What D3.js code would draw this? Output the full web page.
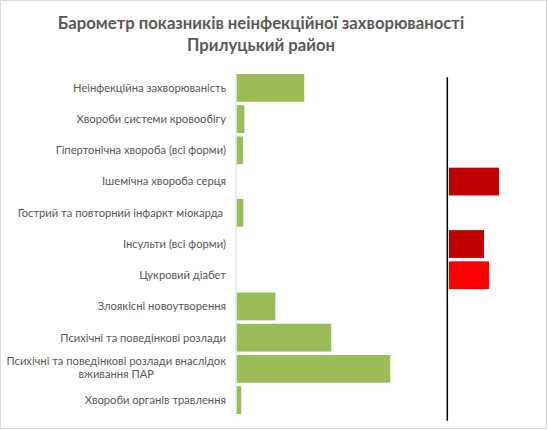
<!DOCTYPE html>
<html><head><meta charset="utf-8">
<script src="https://cdn.jsdelivr.net/npm/d3@7/dist/d3.min.js"></script>
<style>html,body{margin:0;padding:0;background:#fff;} svg{display:block;}</style>
</head><body>
<svg id="chart" width="548" height="430"></svg>
<script>
const titleLines = ["Барометр показників неінфекційної захворюваності", "Прилуцький район"];
const categories = [
  "Неінфекційна захворюваність",
  "Хвороби системи кровообігу",
  "Гіпертонічна хвороба (всі форми)",
  "Ішемічна хвороба серця",
  "Гострий та повторний інфаркт міокарда ",
  "Інсульти (всі форми)",
  "Цукровий діабет",
  "Злоякісні новоутворення",
  "Психічні та поведінкові розлади",
  "Психічні та поведінкові розлади внаслідок\nвживання ПАР",
  "Хвороби органів травлення"
];
const greenValues = [32.0, 3.6, 2.9, 0, 3.1, 0, 0, 18.3, 44.8, 72.8, 2.1];
const redValues   = [0, 0, 0, 24.5, 0, 17.4, 19.8, 0, 0, 0, 0];
const redColors   = ["", "", "", "#C00000", "", "#C00000", "#FF0000", "", "", "", ""];
const threshold = 100;

const svg = d3.select("#chart");
const W = 548, H = 430;

svg.append("rect").attr("x", 0.5).attr("y", 0.5).attr("width", W - 2).attr("height", H - 2)
  .attr("fill", "#fff").attr("stroke", "#d9d9d9");

svg.selectAll("text.title").data(titleLines).enter().append("text")
  .attr("class", "title")
  .attr("x", 261).attr("y", (d, i) => 28.5 + i * 22.5)
  .attr("text-anchor", "middle")
  .attr("font-family", "Lato, 'Open Sans', sans-serif")
  .attr("font-weight", "bold").attr("font-size", 16.7).attr("fill", "#595959")
  .text(d => d);

const x = d3.scaleLinear().domain([0, threshold]).range([236.5, 447.3]);
const y = d3.scaleBand().domain(categories).range([72.3, 415.7]).paddingInner(0.109).paddingOuter(0.0545);

// category axis line
svg.append("line").attr("x1", 236).attr("x2", 236).attr("y1", 72).attr("y2", 415.5)
  .attr("stroke", "#d9d9d9").attr("stroke-width", 1);

// green bars
svg.selectAll("rect.g").data(categories).enter().append("rect")
  .attr("class", "g")
  .attr("x", x(0) + 0.3)
  .attr("y", d => y(d))
  .attr("width", (d, i) => Math.max(0, x(greenValues[i]) - x(0)))
  .attr("height", y.bandwidth())
  .attr("fill", "#9BBB59");

// threshold line
svg.append("line").attr("x1", x(threshold)).attr("x2", x(threshold))
  .attr("y1", 77.3).attr("y2", 420.7).attr("stroke", "#000").attr("stroke-width", 1.5);

// red bars
svg.selectAll("rect.r").data(categories.filter((d, i) => redValues[i] > 0)).enter().append("rect")
  .attr("class", "r")
  .attr("x", x(threshold) + 1.6)
  .attr("y", d => y(d))
  .attr("width", d => x(threshold + redValues[categories.indexOf(d)]) - x(threshold) - 1.6)
  .attr("height", y.bandwidth())
  .attr("fill", d => redColors[categories.indexOf(d)]);

// labels
const labelRight = 226;
const lbl = svg.selectAll("text.lbl").data(categories).enter().append("text")
  .attr("class", "lbl")
  .attr("font-family", "Lato, 'Open Sans', sans-serif")
  .attr("font-size", 11.2).attr("fill", "#595959")
  .style("white-space", "pre");
lbl.each(function(d) {
  const lines = d.split("\n");
  const cy = y(d) + y.bandwidth() / 2;
  const lh = 12.8;
  const t = d3.select(this);
  if (lines.length === 1) {
    t.attr("text-anchor", "end").attr("x", labelRight).attr("y", cy).attr("dy", "0.35em").text(d);
  } else {
    t.attr("text-anchor", "middle");
    const spans = lines.map((ln, j) => t.append("tspan")
      .attr("y", cy + (j - (lines.length - 1) / 2) * lh - 1.5)
      .attr("dy", "0.35em").text(ln));
    const maxW = d3.max(spans, s => s.node().getComputedTextLength());
    spans.forEach(s => s.attr("x", labelRight - maxW / 2));
  }
});
</script>
</body></html>
